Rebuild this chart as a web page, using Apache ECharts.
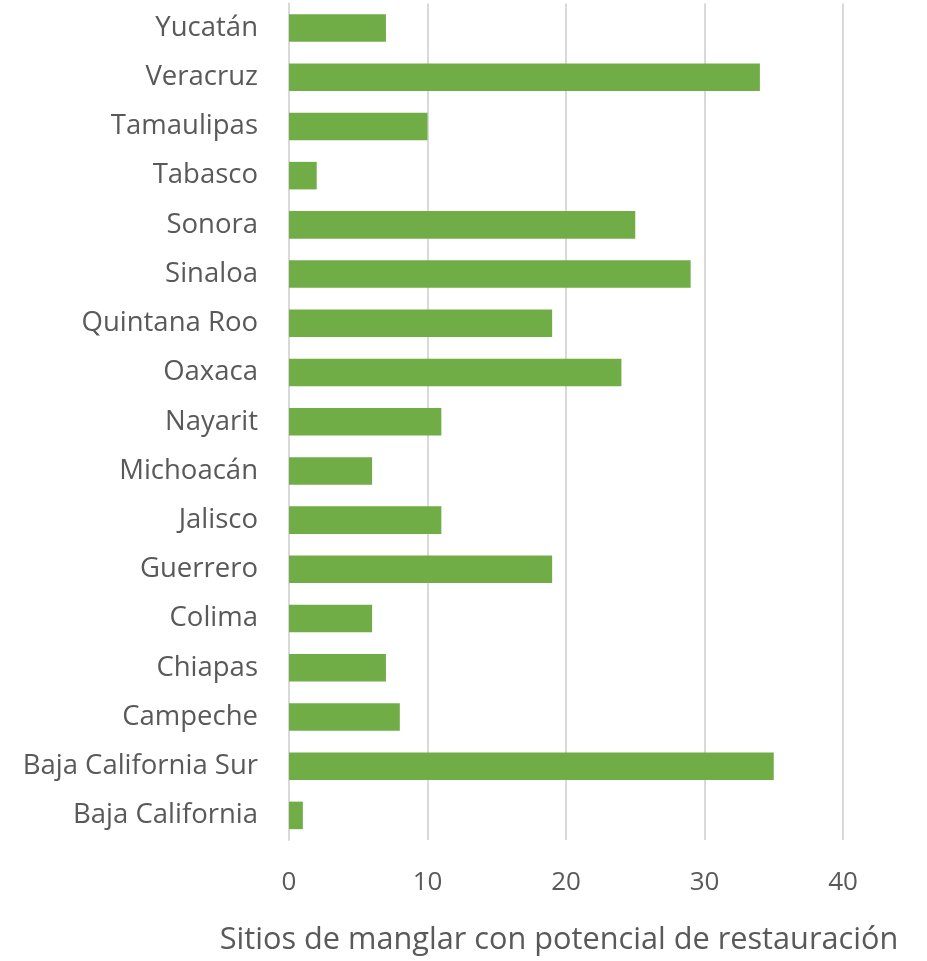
<!DOCTYPE html>
<html>
<head>
<meta charset="utf-8">
<script src="https://cdn.jsdelivr.net/npm/echarts@6/dist/echarts.min.js"></script>
<style>
html,body{margin:0;padding:0;background:#fff;}
#chart{width:927px;height:961px;}
</style>
</head>
<body>
<div id="chart"></div>
<script>
const categories = ["Baja California","Baja California Sur","Campeche","Chiapas","Colima","Guerrero","Jalisco","Michoacán","Nayarit","Oaxaca","Quintana Roo","Sinaloa","Sonora","Tabasco","Tamaulipas","Veracruz","Yucatán"];
const values = [1,35,8,7,6,19,11,6,11,24,19,29,25,2,10,34,7];
const axisTitle = "Sitios de manglar con potencial de restauración";

const chart = echarts.init(document.getElementById('chart'));
chart.setOption({
  animation: false,
  backgroundColor: '#ffffff',
  grid: {left: 289, right: 84, top: 3.4, bottom: 121, containLabel: false},
  xAxis: {
    type: 'value', min: 0, max: 40, interval: 10,
    name: axisTitle, nameLocation: 'middle', nameGap: 85,
    nameTextStyle: {fontFamily: 'Open Sans', fontSize: 30.7, color: '#595959', padding: [0, 14, 0, 0]},
    axisLine: {show: false}, axisTick: {show: false},
    axisLabel: {fontFamily: 'Open Sans', fontSize: 26, color: '#595959', margin: 30},
    splitLine: {show: true, lineStyle: {color: '#D9D9D9', width: 2}}
  },
  yAxis: {
    type: 'category', data: categories,
    axisLine: {show: true, lineStyle: {color: '#D9D9D9', width: 2}},
    axisTick: {show: false},
    axisLabel: {fontFamily: 'Open Sans', fontSize: 27.5, color: '#595959', margin: 31}
  },
  series: [{
    type: 'bar', data: values, barCategoryGap: '44%',
    itemStyle: {color: '#70AD47'}
  }]
});
</script>
</body>
</html>
